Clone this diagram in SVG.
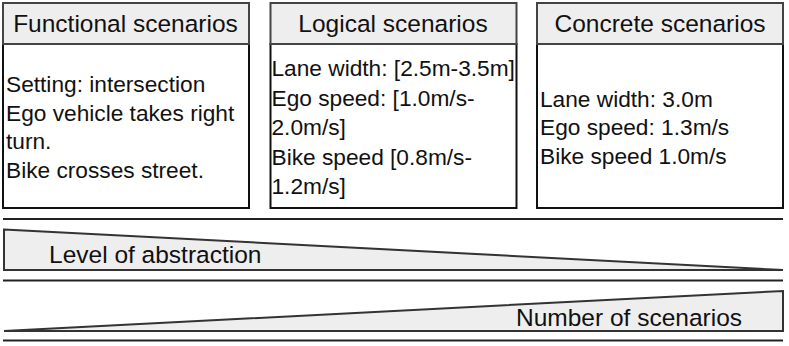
<svg xmlns="http://www.w3.org/2000/svg" width="789" height="346" viewBox="0 0 789 346">
<style>
.hdr{fill:#eeeeee;stroke:#444444;stroke-width:2}
.body{fill:#ffffff;stroke:#111111;stroke-width:2}
.ht{font-family:"Liberation Sans",Arial,sans-serif;font-size:24.5px;fill:#111111;text-anchor:middle}
.bt{font-family:"Liberation Sans",Arial,sans-serif;font-size:22.7px;fill:#111111}
.tri{fill:#eeeeee;stroke:#333333;stroke-width:2;stroke-linejoin:miter}
.sep{stroke:#222222;stroke-width:2.2;fill:none}
.lt{font-family:"Liberation Sans",Arial,sans-serif;font-size:24.5px;fill:#111111}
</style>
<rect width="789" height="346" fill="#ffffff"/>
<g id="functional">
<rect class="body" x="3" y="44" width="246" height="164"/>
<rect class="hdr" x="3" y="3" width="246" height="41"/>
<text class="ht" x="125.5" y="32">Functional scenarios</text>
<text class="bt" x="6" y="92">Setting: intersection</text>
<text class="bt" x="6" y="120.5">Ego vehicle takes right</text>
<text class="bt" x="6" y="149">turn.</text>
<text class="bt" x="6" y="177.5">Bike crosses street.</text>
</g>
<g id="logical">
<rect class="body" x="270.5" y="44" width="246" height="164"/>
<rect class="hdr" x="270.5" y="3" width="246" height="41"/>
<text class="ht" x="393" y="32">Logical scenarios</text>
<text class="bt" x="271.5" y="76">Lane width: [2.5m-3.5m]</text>
<text class="bt" x="271.5" y="105.5">Ego speed: [1.0m/s-</text>
<text class="bt" x="271.5" y="135">2.0m/s]</text>
<text class="bt" x="271.5" y="164.5">Bike speed [0.8m/s-</text>
<text class="bt" x="271.5" y="194">1.2m/s]</text>
</g>
<g id="concrete">
<rect class="body" x="537" y="44" width="246" height="164"/>
<rect class="hdr" x="537" y="3" width="246" height="41"/>
<text class="ht" x="660" y="32">Concrete scenarios</text>
<text class="bt" x="540" y="106.5">Lane width: 3.0m</text>
<text class="bt" x="540" y="135">Ego speed: 1.3m/s</text>
<text class="bt" x="540" y="163.5">Bike speed 1.0m/s</text>
</g>
<g id="connectors">
<line class="sep" x1="3" y1="219" x2="783" y2="219"/>
<line class="sep" x1="3" y1="280.5" x2="783" y2="280.5"/>
<line class="sep" x1="3" y1="340.5" x2="783" y2="340.5"/>
</g>
<g id="abstraction">
<polygon class="tri" points="4,229.5 783,270 4,270"/>
<text class="lt" x="49" y="263">Level of abstraction</text>
</g>
<g id="number">
<polygon class="tri" points="4,331 783,291 783,331"/>
<text class="lt" x="516" y="325.5">Number of scenarios</text>
</g>
</svg>
